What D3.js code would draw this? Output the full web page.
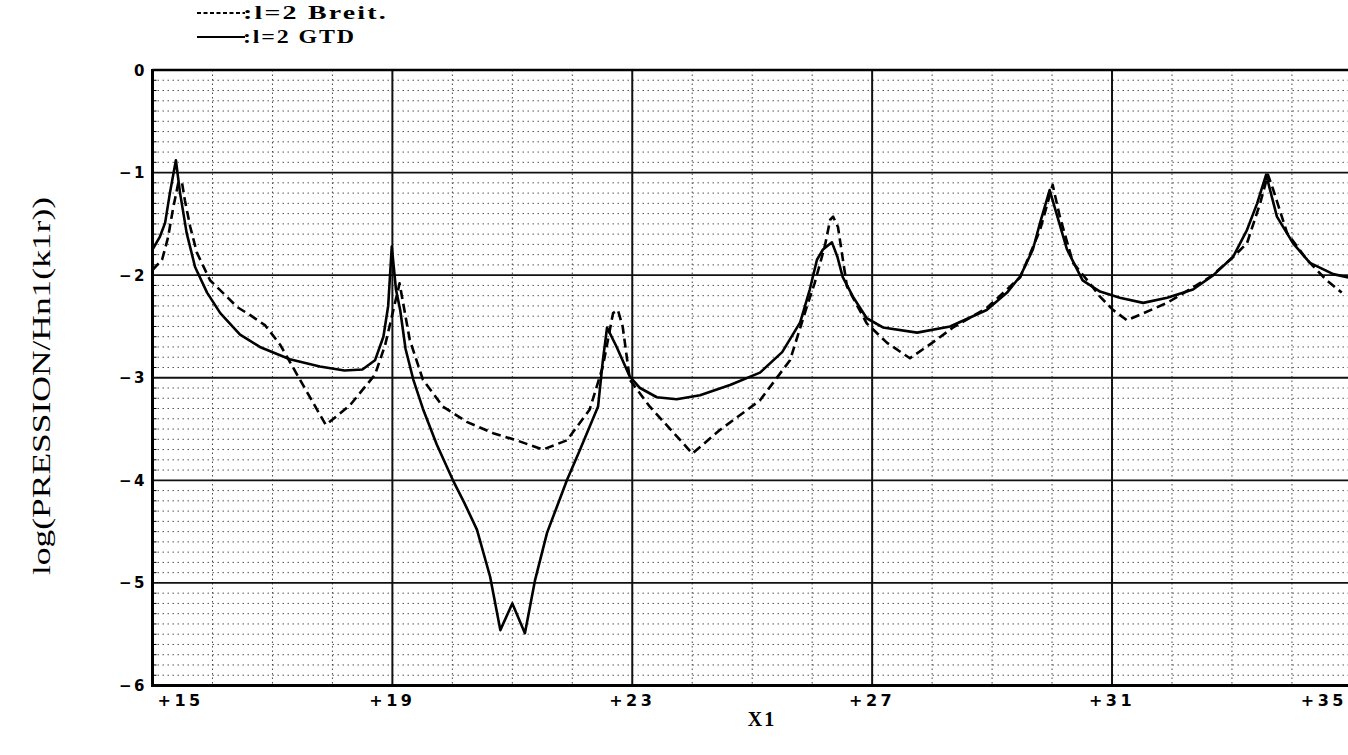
<!DOCTYPE html>
<html>
<head>
<meta charset="utf-8">
<script src="https://cdn.jsdelivr.net/npm/d3@7"></script>
<style>
  html, body { margin: 0; padding: 0; background: #fff; }
  svg { display: block; }
</style>
</head>
<body>
<svg id="chart" width="1348" height="755"></svg>
<script>
// ---------- data ----------
const xTicks = [15, 19, 23, 27, 31, 35];
const xTickLabels = ["+15", "+19", "+23", "+27", "+31", "+35"];
const yTicks = [0, -1, -2, -3, -4, -5, -6];
const yTickLabels = ["0", "−1", "−2", "−3", "−4", "−5", "−6"];
const seriesNames = [":l=2 Breit.", ":l=2 GTD"];

// l=2 GTD (solid)
const gtdX = [15.0, 15.12, 15.21, 15.29, 15.39, 15.46, 15.57, 15.71, 15.91, 16.13, 16.46, 16.79, 17.29, 17.79,
  18.2, 18.5, 18.71, 18.85, 18.93, 18.99, 19.06, 19.13, 19.22, 19.35, 19.52, 19.74, 20.01, 20.2, 20.41, 20.63,
  20.80, 21.0, 21.21, 21.38, 21.58, 21.91, 22.13, 22.43, 22.51, 22.58, 22.74, 22.96, 23.13, 23.41, 23.74,
  24.13, 24.63, 25.13, 25.5, 25.8, 25.96, 26.08, 26.18, 26.33, 26.42, 26.51, 26.68, 26.91, 27.18, 27.75,
  28.30, 28.91, 29.25, 29.47, 29.68, 29.80, 29.96, 30.25, 30.51, 30.80, 31.13, 31.52, 31.92, 32.35, 32.69,
  33.02, 33.25, 33.42, 33.57, 33.75, 34.02, 34.30, 34.69, 35.0];
const gtdY = [-1.75, -1.63, -1.49, -1.20, -0.88, -1.20, -1.59, -1.92, -2.17, -2.37, -2.58, -2.70, -2.82, -2.89,
  -2.93, -2.92, -2.83, -2.6, -2.3, -1.72, -2.14, -2.34, -2.72, -3.02, -3.32, -3.65, -4.0, -4.22, -4.48, -4.94,
  -5.46, -5.2, -5.49, -4.97, -4.51, -4.0, -3.70, -3.28, -2.83, -2.51, -2.70, -2.99, -3.10, -3.19, -3.21,
  -3.17, -3.07, -2.95, -2.75, -2.46, -2.14, -1.85, -1.75, -1.68, -1.82, -2.02, -2.21, -2.42, -2.51, -2.56,
  -2.50, -2.34, -2.17, -2.01, -1.75, -1.49, -1.17, -1.75, -2.05, -2.16, -2.22, -2.27, -2.22, -2.14, -2.0,
  -1.82, -1.56, -1.30, -1.02, -1.43, -1.69, -1.88, -1.99, -2.03];

// l=2 Breit. (dashed)
const breitX = [15.0, 15.16, 15.26, 15.34, 15.43, 15.49, 15.54, 15.63, 15.74, 15.96, 16.24, 16.41, 16.63, 16.88,
  17.13, 17.46, 17.89, 18.29, 18.71, 18.88, 19.12, 19.29, 19.51, 19.84, 20.24, 20.68, 21.07, 21.51, 21.91,
  22.29, 22.51, 22.68, 22.76, 22.84, 22.96, 23.29, 23.85, 24.0, 24.46, 25.13, 25.63, 25.91, 26.04, 26.21,
  26.30, 26.35, 26.43, 26.58, 26.91, 27.25, 27.63, 28.0, 28.35, 28.91, 29.47, 29.80, 30.01, 30.13, 30.35,
  30.63, 30.80, 31.02, 31.25, 31.92, 32.63, 32.97, 33.25, 33.47, 33.60, 33.69, 33.92, 34.25, 34.58, 34.83];
const breitY = [-1.95, -1.85, -1.63, -1.36, -1.10, -1.09, -1.27, -1.53, -1.78, -2.05, -2.21, -2.31, -2.39, -2.49,
  -2.68, -3.02, -3.46, -3.27, -2.97, -2.68, -2.08, -2.63, -3.02, -3.28, -3.43, -3.54, -3.61, -3.70, -3.61,
  -3.31, -2.89, -2.37, -2.34, -2.50, -3.02, -3.28, -3.64, -3.74, -3.51, -3.22, -2.83, -2.31, -2.08, -1.72,
  -1.46, -1.43, -1.53, -2.11, -2.47, -2.66, -2.81, -2.66, -2.51, -2.32, -2.02, -1.56, -1.12, -1.43, -1.88,
  -2.08, -2.21, -2.34, -2.44, -2.27, -2.02, -1.85, -1.69, -1.30, -1.02, -1.17, -1.59, -1.85, -2.05, -2.17];

// ---------- layout ----------
const svg = d3.select("#chart");
const W = 1348, H = 755;
const plotLeft = 152.5, plotTop = 70, plotBottom = 685.5;
const x = d3.scaleLinear().domain([15, 35]).range([plotLeft, plotLeft + 20 * 59.97]);
const y = d3.scaleLinear().domain([-6, 0]).range([plotBottom, plotTop]);
const plotRight = W;

svg.append("defs").append("clipPath").attr("id", "clip")
  .append("rect").attr("x", plotLeft).attr("y", plotTop - 2)
  .attr("width", plotRight - plotLeft).attr("height", plotBottom - plotTop + 4);

const grid = svg.append("g");

// minor horizontal dotted lines every 0.1
const minorY = d3.range(1, 60).filter(i => i % 10 !== 0).map(i => -i / 10);
grid.selectAll("line.hminor").data(minorY).join("line")
  .attr("x1", plotLeft).attr("x2", plotRight)
  .attr("y1", d => y(d)).attr("y2", d => y(d))
  .attr("stroke", "#555").attr("stroke-width", 1).attr("stroke-dasharray", "1.5,3.5");

// minor vertical dotted lines every 1
const minorX = d3.range(16, 36).filter(v => (v - 15) % 4 !== 0);
grid.selectAll("line.vminor").data(minorX).join("line")
  .attr("x1", d => x(d)).attr("x2", d => x(d))
  .attr("y1", plotTop).attr("y2", plotBottom)
  .attr("stroke", "#444").attr("stroke-width", 1).attr("stroke-dasharray", "1.5,3");

// major horizontal lines
grid.selectAll("line.hmajor").data([-1, -2, -3, -4, -5]).join("line")
  .attr("x1", plotLeft).attr("x2", plotRight)
  .attr("y1", d => y(d)).attr("y2", d => y(d))
  .attr("stroke", "#111").attr("stroke-width", 1.8);

// major vertical lines
grid.selectAll("line.vmajor").data([19, 23, 27, 31]).join("line")
  .attr("x1", d => x(d)).attr("x2", d => x(d))
  .attr("y1", plotTop).attr("y2", plotBottom)
  .attr("stroke", "#111").attr("stroke-width", 2);

// frame
grid.append("line").attr("x1", plotLeft).attr("x2", plotRight).attr("y1", plotTop).attr("y2", plotTop)
  .attr("stroke", "#000").attr("stroke-width", 2.5);
grid.append("line").attr("x1", plotLeft).attr("x2", plotRight).attr("y1", plotBottom).attr("y2", plotBottom)
  .attr("stroke", "#000").attr("stroke-width", 3);
grid.append("line").attr("x1", plotLeft).attr("x2", plotLeft).attr("y1", plotTop - 1).attr("y2", plotBottom + 1.5)
  .attr("stroke", "#000").attr("stroke-width", 3);

// small ticks on left frame
grid.selectAll("line.ltick").data(minorY).join("line")
  .attr("x1", plotLeft).attr("x2", plotLeft + 4)
  .attr("y1", d => y(d)).attr("y2", d => y(d))
  .attr("stroke", "#000").attr("stroke-width", 1);

// ---------- curves ----------
const line = d3.line().x(d => x(d[0])).y(d => y(d[1])).curve(d3.curveLinear);
const curves = svg.append("g").attr("clip-path", "url(#clip)");
curves.append("path").datum(d3.zip(breitX, breitY))
  .attr("d", line).attr("fill", "none").attr("stroke", "#000")
  .attr("stroke-width", 2.6).attr("stroke-dasharray", "9,5").attr("stroke-linejoin", "round");
curves.append("path").datum(d3.zip(gtdX, gtdY))
  .attr("d", line).attr("fill", "none").attr("stroke", "#000")
  .attr("stroke-width", 2.6).attr("stroke-linejoin", "round");

// ---------- axis labels ----------
svg.append("g").selectAll("text").data(yTicks).join("text")
  .attr("x", 147).attr("y", d => y(d) + 5.5)
  .attr("text-anchor", "end")
  .attr("font-family", "DejaVu Sans, sans-serif").attr("font-weight", "bold").attr("font-size", 15)
  .attr("letter-spacing", 2.5)
  .text((d, i) => yTickLabels[i]);

svg.append("g").selectAll("text").data(xTicks).join("text")
  .attr("x", (d, i) => i === 0 ? x(d) + 5 : (i === xTicks.length - 1 ? W - 1 : x(d)))
  .attr("y", 706)
  .attr("text-anchor", (d, i) => i === 0 ? "start" : (i === xTicks.length - 1 ? "end" : "middle"))
  .attr("font-family", "DejaVu Sans, sans-serif").attr("font-weight", "bold").attr("font-size", 16)
  .attr("letter-spacing", 3.5)
  .text((d, i) => xTickLabels[i]);

svg.append("text").attr("x", 762).attr("y", 726).attr("text-anchor", "middle")
  .attr("font-family", "Liberation Serif, serif").attr("font-weight", "bold").attr("font-size", 20)
  .attr("letter-spacing", 2)
  .text("X1");

svg.append("text")
  .attr("transform", "translate(50,386) rotate(-90)")
  .attr("text-anchor", "middle")
  .attr("font-family", "Liberation Serif, serif").attr("font-size", 26)
  .attr("textLength", 378).attr("lengthAdjust", "spacingAndGlyphs")
  .text("log(PRESSION/Hn1(k1r))");

// ---------- legend ----------
const legend = svg.append("g");
const legendRows = [
  { name: seriesNames[0], dash: "4,2.5", y: 13, len: 145 },
  { name: seriesNames[1], dash: null, y: 37, len: 113 }
];
legendRows.forEach(r => {
  legend.append("line").attr("x1", 197).attr("x2", 245).attr("y1", r.y).attr("y2", r.y)
    .attr("stroke", "#000").attr("stroke-width", 1.8)
    .attr("stroke-dasharray", r.dash);
  legend.append("text").attr("x", 243).attr("y", r.y + 6)
    .attr("font-family", "Liberation Serif, serif").attr("font-weight", "bold").attr("font-size", 19)
    .attr("textLength", r.len).attr("lengthAdjust", "spacingAndGlyphs")
    .attr("letter-spacing", 1.5)
    .text(r.name);
});
</script>
</body>
</html>
